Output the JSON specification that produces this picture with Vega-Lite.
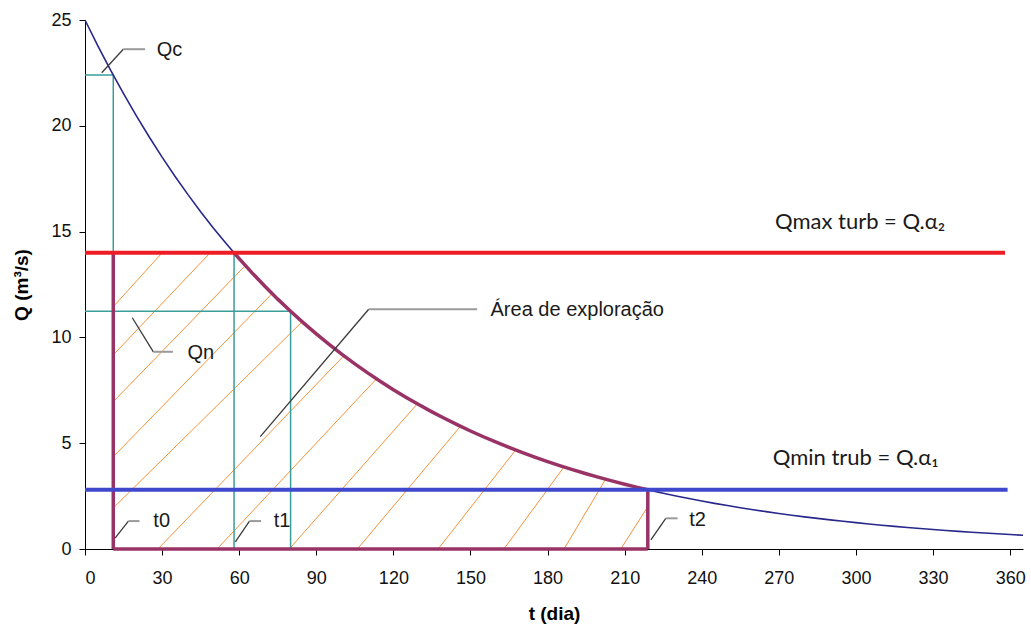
{
  "$schema": "https://vega.github.io/schema/vega-lite/v6.json",
  "width": 938,
  "height": 529,
  "autosize": {"type": "none"},
  "padding": {"left": 85, "top": 20, "right": 8, "bottom": 81},
  "background": "white",
  "config": {
    "view": {"stroke": null},
    "axis": {
      "grid": false,
      "domainColor": "#000000",
      "domainWidth": 1,
      "tickColor": "#000000",
      "tickSize": 6,
      "labelFont": "Liberation Sans",
      "labelFontSize": 18,
      "labelColor": "#111111",
      "titleFont": "Liberation Sans",
      "titleFontSize": 19,
      "titleFontWeight": "bold",
      "titleColor": "#000000"
    }
  },
  "datasets": {
    "curve": [
      {"t": 0, "q": 25.0}, {"t": 5, "q": 23.781}, {"t": 10, "q": 22.621}, {"t": 15, "q": 21.518},
      {"t": 20, "q": 20.468}, {"t": 25, "q": 19.47}, {"t": 30, "q": 18.52}, {"t": 35, "q": 17.617},
      {"t": 40, "q": 16.758}, {"t": 45, "q": 15.941}, {"t": 50, "q": 15.163}, {"t": 55, "q": 14.424},
      {"t": 58, "q": 13.997}, {"t": 60, "q": 13.72}, {"t": 65, "q": 13.051}, {"t": 70, "q": 12.415},
      {"t": 75, "q": 11.809}, {"t": 80, "q": 11.233}, {"t": 85, "q": 10.685}, {"t": 90, "q": 10.164},
      {"t": 95, "q": 9.669}, {"t": 100, "q": 9.197}, {"t": 105, "q": 8.748}, {"t": 110, "q": 8.322},
      {"t": 115, "q": 7.916}, {"t": 120, "q": 7.53}, {"t": 125, "q": 7.163}, {"t": 130, "q": 6.813},
      {"t": 135, "q": 6.481}, {"t": 140, "q": 6.165}, {"t": 145, "q": 5.864}, {"t": 150, "q": 5.578},
      {"t": 155, "q": 5.306}, {"t": 160, "q": 5.047}, {"t": 165, "q": 4.801}, {"t": 170, "q": 4.567},
      {"t": 175, "q": 4.344}, {"t": 180, "q": 4.132}, {"t": 185, "q": 3.931}, {"t": 190, "q": 3.739},
      {"t": 195, "q": 3.557}, {"t": 200, "q": 3.383}, {"t": 205, "q": 3.218}, {"t": 210, "q": 3.061},
      {"t": 215, "q": 2.912}, {"t": 219, "q": 2.798}, {"t": 220, "q": 2.77}, {"t": 225, "q": 2.635},
      {"t": 230, "q": 2.506}, {"t": 235, "q": 2.384}, {"t": 240, "q": 2.268}, {"t": 245, "q": 2.157},
      {"t": 250, "q": 2.052}, {"t": 255, "q": 1.952}, {"t": 260, "q": 1.857}, {"t": 265, "q": 1.766},
      {"t": 270, "q": 1.68}, {"t": 275, "q": 1.598}, {"t": 280, "q": 1.52}, {"t": 285, "q": 1.446},
      {"t": 290, "q": 1.376}, {"t": 295, "q": 1.309}, {"t": 300, "q": 1.245}, {"t": 305, "q": 1.184},
      {"t": 310, "q": 1.126}, {"t": 315, "q": 1.071}, {"t": 320, "q": 1.019}, {"t": 325, "q": 0.969},
      {"t": 330, "q": 0.922}, {"t": 335, "q": 0.877}, {"t": 340, "q": 0.834}, {"t": 345, "q": 0.794},
      {"t": 350, "q": 0.755}, {"t": 355, "q": 0.718}, {"t": 360, "q": 0.683}, {"t": 365, "q": 0.65}
    ],
    "hatch": [
      {"t": 11, "q": 11.45, "t_end": 30, "q_end": 14},
      {"t": 11, "q": 9.17, "t_end": 48.7, "q_end": 14},
      {"t": 11, "q": 6.96, "t_end": 62.4, "q_end": 13.4},
      {"t": 11, "q": 4.36, "t_end": 72.8, "q_end": 12.07},
      {"t": 11, "q": 1.94, "t_end": 84.5, "q_end": 10.74},
      {"t": 28.4, "q": 0, "t_end": 100.7, "q_end": 9.13},
      {"t": 51.4, "q": 0, "t_end": 113.4, "q_end": 8.04},
      {"t": 79.5, "q": 0, "t_end": 129.3, "q_end": 6.86},
      {"t": 106, "q": 0, "t_end": 146.1, "q_end": 5.8},
      {"t": 137.4, "q": 0, "t_end": 167.6, "q_end": 4.68},
      {"t": 163, "q": 0, "t_end": 186.4, "q_end": 3.88},
      {"t": 186.4, "q": 0, "t_end": 202.6, "q_end": 3.3},
      {"t": 208.5, "q": 0, "t_end": 219, "q_end": 2.0}
    ],
    "guides": [
      {"t": 0, "q": 22.4, "t_end": 11, "q_end": 22.4},
      {"t": 11, "q": 22.4, "t_end": 11, "q_end": 14},
      {"t": 58, "q": 0, "t_end": 58, "q_end": 14},
      {"t": 0, "q": 11.23, "t_end": 80, "q_end": 11.23},
      {"t": 80, "q": 0, "t_end": 80, "q_end": 11.23}
    ],
    "bounds": [
      {"t": 11, "q": 0, "t_end": 11, "q_end": 14},
      {"t": 11, "q": 0, "t_end": 219, "q_end": 0},
      {"t": 219, "q": 0, "t_end": 219, "q_end": 2.8}
    ],
    "limits": [
      {"name": "Qmax turb", "t": 0, "t_end": 358, "q": 14},
      {"name": "Qmin turb", "t": 0, "t_end": 359, "q": 2.8}
    ],
    "leaders": [
      {"label": "Qc", "part": "diag", "t": 6.5, "q": 22.51, "t_end": 14.9, "q_end": 23.62},
      {"label": "Qc", "part": "flat", "t": 14.9, "q": 23.62, "t_end": 23.4, "q_end": 23.62},
      {"label": "Qn", "part": "diag", "t": 18.4, "q": 10.93, "t_end": 26.6, "q_end": 9.32},
      {"label": "Qn", "part": "flat", "t": 26.6, "q": 9.32, "t_end": 34.2, "q_end": 9.32},
      {"label": "Área", "part": "diag", "t": 68.2, "q": 5.31, "t_end": 110.4, "q_end": 11.33},
      {"label": "Área", "part": "flat", "t": 110.4, "q": 11.33, "t_end": 152.6, "q_end": 11.33},
      {"label": "t0", "part": "diag", "t": 11.7, "q": 0.51, "t_end": 16.9, "q_end": 1.32},
      {"label": "t0", "part": "flat", "t": 16.9, "q": 1.32, "t_end": 21.2, "q_end": 1.32},
      {"label": "t1", "part": "diag", "t": 58.5, "q": 0.34, "t_end": 64, "q_end": 1.32},
      {"label": "t1", "part": "flat", "t": 64, "q": 1.32, "t_end": 68.5, "q_end": 1.32},
      {"label": "t2", "part": "diag", "t": 220.2, "q": 0.43, "t_end": 226, "q_end": 1.45},
      {"label": "t2", "part": "flat", "t": 226, "q": 1.45, "t_end": 230.6, "q_end": 1.45}
    ],
    "labels": [
      {"text": "Qc", "t": 27.9, "q": 23.6},
      {"text": "Qn", "t": 39.9, "q": 9.26},
      {"text": "Área de exploração", "t": 157.8, "q": 11.29},
      {"text": "t0", "t": 26.6, "q": 1.32},
      {"text": "t1", "t": 73.4, "q": 1.32},
      {"text": "t2", "t": 235.1, "q": 1.35}
    ],
    "formulas": [
      {"text": "Qmax turb = Q.α₂", "t": 301.6, "q": 15.44},
      {"text": "Qmin trub = Q.α₁", "t": 299.9, "q": 4.29}
    ]
  },
  "encoding": {
    "x": {
      "field": "t", "type": "quantitative",
      "scale": {"domain": [0, 365], "nice": false},
      "axis": {"title": "t (dia)", "values": [0, 30, 60, 90, 120, 150, 180, 210, 240, 270, 300, 330, 360], "labelPadding": 14, "titlePadding": 17}
    },
    "y": {
      "field": "q", "type": "quantitative",
      "scale": {"domain": [0, 25], "nice": false},
      "axis": {"title": "Q (m³/s)", "values": [0, 5, 10, 15, 20, 25], "labelPadding": 8, "titlePadding": 19}
    }
  },
  "layer": [
    {
      "data": {"name": "hatch"},
      "mark": {"type": "rule", "color": "#F7923A", "strokeWidth": 1},
      "encoding": {"x2": {"field": "t_end"}, "y2": {"field": "q_end"}}
    },
    {
      "data": {"name": "guides"},
      "mark": {"type": "rule", "color": "#3A9D99", "strokeWidth": 1.5},
      "encoding": {"x2": {"field": "t_end"}, "y2": {"field": "q_end"}}
    },
    {
      "data": {"name": "curve"},
      "mark": {"type": "line", "color": "#28288C", "strokeWidth": 1.6},
      "encoding": {}
    },
    {
      "data": {"name": "curve"},
      "transform": [{"filter": "datum.t >= 58 && datum.t <= 219"}],
      "mark": {"type": "line", "color": "#993366", "strokeWidth": 3.5},
      "encoding": {}
    },
    {
      "data": {"name": "bounds"},
      "mark": {"type": "rule", "color": "#993366", "strokeWidth": 3.5},
      "encoding": {"x2": {"field": "t_end"}, "y2": {"field": "q_end"}}
    },
    {
      "data": {"name": "limits"},
      "mark": {"type": "rule", "strokeWidth": 4},
      "encoding": {
        "x2": {"field": "t_end"},
        "color": {"field": "name", "type": "nominal", "scale": {"domain": ["Qmax turb", "Qmin turb"], "range": ["#EE1C25", "#3F48CC"]}, "legend": null}
      }
    },
    {
      "data": {"name": "leaders"},
      "transform": [{"filter": "datum.part == 'diag'"}],
      "mark": {"type": "rule", "color": "#3a3a3a", "strokeWidth": 1.3},
      "encoding": {"x2": {"field": "t_end"}, "y2": {"field": "q_end"}}
    },
    {
      "data": {"name": "leaders"},
      "transform": [{"filter": "datum.part == 'flat'"}],
      "mark": {"type": "rule", "color": "#9a9a9a", "strokeWidth": 2},
      "encoding": {"x2": {"field": "t_end"}, "y2": {"field": "q_end"}}
    },
    {
      "data": {"name": "labels"},
      "mark": {"type": "text", "align": "left", "baseline": "middle", "font": "Liberation Sans", "fontSize": 20, "color": "#1a1a1a"},
      "encoding": {"text": {"field": "text"}}
    },
    {
      "data": {"name": "formulas"},
      "mark": {"type": "text", "align": "center", "baseline": "middle", "font": "Lato", "fontSize": 22, "color": "#1a1a1a"},
      "encoding": {"text": {"field": "text"}}
    }
  ]
}
